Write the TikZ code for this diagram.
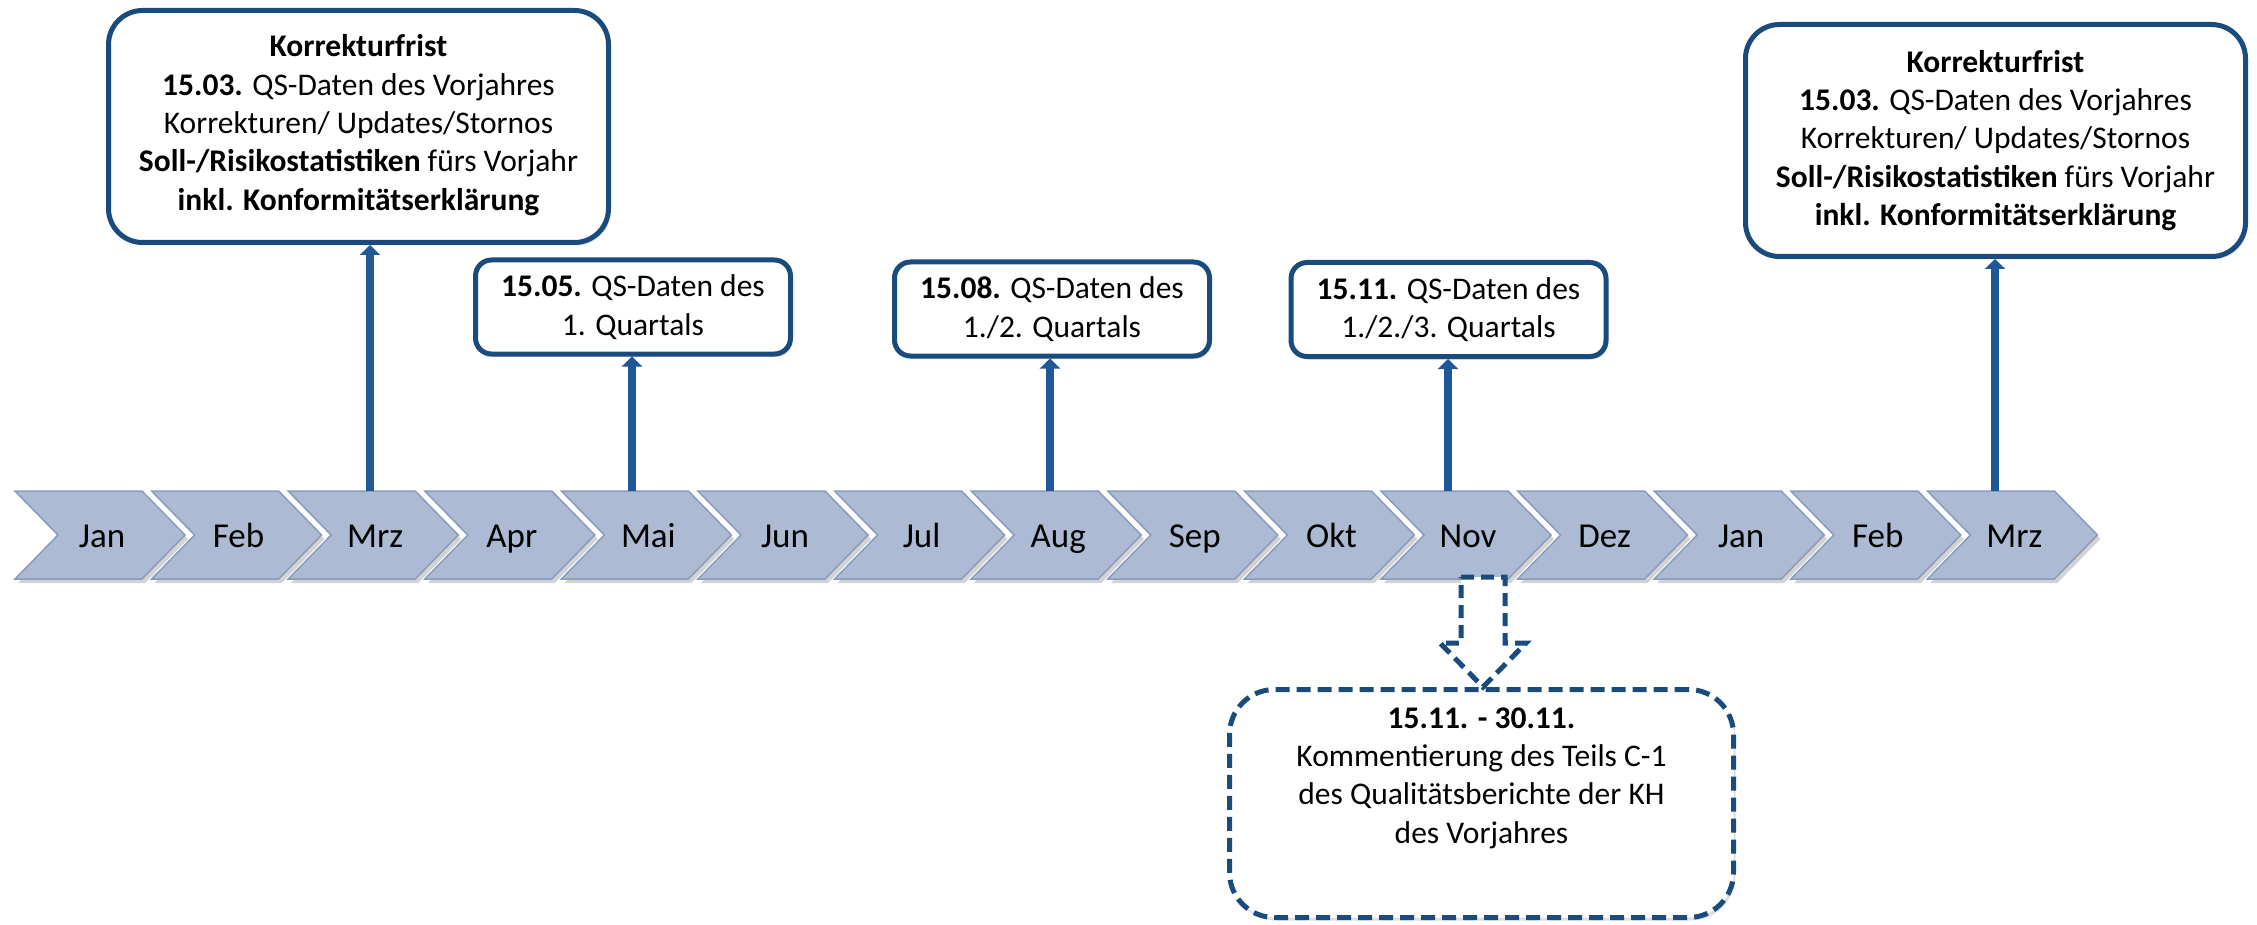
\documentclass[tikz,border=0pt]{standalone}
\usepackage{fontspec}
\setmainfont{Carlito}
\usetikzlibrary{arrows.meta,shadows,calc}
\definecolor{dblue}{RGB}{25,75,125}
\definecolor{ablue}{RGB}{30,88,150}
\definecolor{chfill}{RGB}{172,186,211}
\definecolor{chdraw}{RGB}{138,156,190}
\begin{document}
\begin{tikzpicture}[x=1pt,y=-1pt,
  chev/.style={fill=chfill, draw=chdraw, line width=1.5pt, line join=miter,
    drop shadow={shadow xshift=3pt, shadow yshift=-4pt, opacity=0.35}},
  mlabel/.style={anchor=base, font=\fontsize{35}{42}\selectfont, inner sep=0pt},
  boxbase/.style={draw=dblue, line width=5pt, fill=white, align=center,
    font=\fontsize{31.5}{38.3}\selectfont,
    drop shadow={shadow xshift=2pt, shadow yshift=-3pt, opacity=0.25}},
  bigbox/.style={boxbase, rounded corners=34pt, minimum width=500pt, minimum height=232pt},
  smallbox/.style={boxbase, rounded corners=16pt, minimum width=315pt, minimum height=94pt},
  dashbox/.style={boxbase, dash pattern=on 14pt off 7pt, rounded corners=45pt,
    minimum width=504pt, minimum height=228pt},
  conn/.style={draw=ablue, line width=8pt, -{Triangle[length=10pt,width=20pt]}},
  blockarrow/.style={draw=dblue, line width=5pt, fill=white, dash pattern=on 13pt off 7pt, line join=miter},
]
\useasboundingbox (0,0) rectangle (2257,925);

% chevrons
\foreach \i/\m in {1/Jan,2/Feb,3/Mrz,4/Apr,5/Mai,6/Jun,7/Jul,8/Aug,9/Sep,10/Okt,11/Nov,12/Dez,13/Jan,14/Feb,15/Mrz}{
  \pgfmathsetmacro\L{15+(\i-1)*136.6}
  \draw[chev] (\L,491) -- ++(127,0) -- ++(43,44) -- ++(-43,44) -- ++(-127,0) -- ++(43,-44) -- cycle;
  \node[mlabel] (m\i) at (\L+87,547) {\m};
}

% boxes
\node[bigbox] (box1) at (358.5,126.5) {\textbf{Korrekturfrist}\\\textbf{15.03.} QS-Daten des Vorjahres\\Korrekturen/ Updates/Stornos\\\textbf{Soll-/Risikostatistiken} fürs Vorjahr\\\textbf{inkl. Konformitätserklärung}\rule[-8pt]{0pt}{0pt}};
\node[bigbox] (box2) at (1995.5,140.5) {\textbf{Korrekturfrist}\\\textbf{15.03.} QS-Daten des Vorjahres\\Korrekturen/ Updates/Stornos\\\textbf{Soll-/Risikostatistiken} fürs Vorjahr\\\textbf{inkl. Konformitätserklärung}};
\node[smallbox] (q1) at (633,307) {\textbf{15.05.} QS-Daten des\\1. Quartals};
\node[smallbox] (q2) at (1052,309) {\textbf{15.08.} QS-Daten des\\1./2. Quartals};
\node[smallbox] (q3) at (1448.5,309.5) {\textbf{15.11.} QS-Daten des\\1./2./3. Quartals};

% connector start points on chevron tops
\coordinate (c3) at (370,491);
\coordinate (c5) at (632,491);
\coordinate (c8) at (1050,491);
\coordinate (c11) at (1448,491);
\coordinate (c15) at (1995,491);

\draw[conn] (c3) -- (c3 |- box1.south);
\draw[conn] (c5) -- (c5 |- q1.south);
\draw[conn] (c8) -- (c8 |- q2.south);
\draw[conn] (c11) -- (c11 |- q3.south);
\draw[conn] (c15) -- (c15 |- box2.south);

% dashed box and block arrow
\node[dashbox] (kb) at (1481.5,803.5) {\textbf{15.11. - 30.11.}\\Kommentierung des Teils C-1\\des Qualitätsberichte der KH\\des Vorjahres\rule[-56pt]{0pt}{0pt}};
\coordinate (na) at (1483,577);
\draw[blockarrow] ($(na)+(-22,0)$) -- ($(na)+(22,0)$) -- ($(na)+(22,66)$) -- ($(na)+(43,66)$)
  -- (na |- kb.north) -- ($(na)+(-43,66)$) -- ($(na)+(-22,66)$) -- cycle;
\end{tikzpicture}
\end{document}
